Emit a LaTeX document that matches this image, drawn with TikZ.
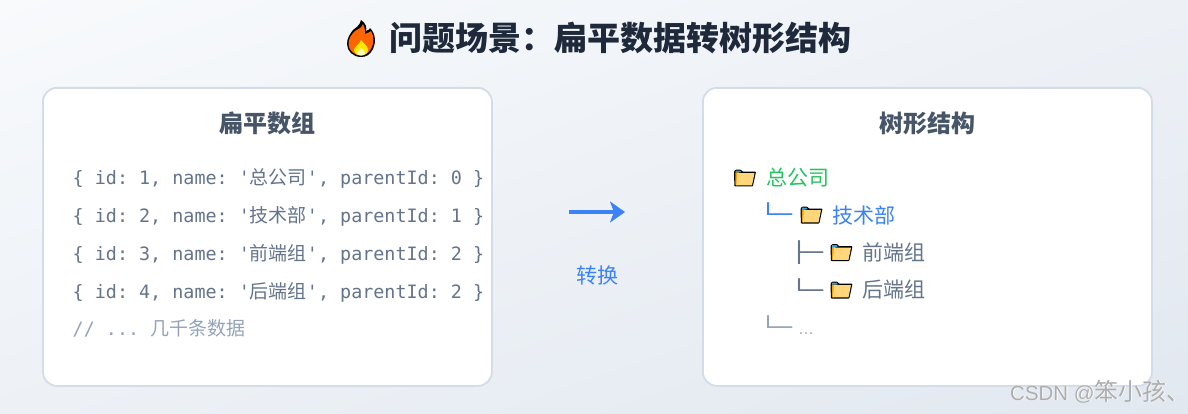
\documentclass[tikz,border=0pt]{standalone}
\usepackage{fontspec}
\setmainfont{Liberation Sans}
\newfontfamily\cjk{Noto Sans CJK SC}
\newfontfamily\codefont{DejaVu Sans Mono}
\usetikzlibrary{arrows.meta,shadings}
\definecolor{bgA}{HTML}{F8FAFC}
\definecolor{bgB}{HTML}{E2E8F0}
\definecolor{bgM}{HTML}{EDF1F6}
\definecolor{cardline}{HTML}{D3DCE8}
\definecolor{titlec}{HTML}{1E293B}
\definecolor{headc}{HTML}{475569}
\definecolor{codec}{HTML}{64748B}
\definecolor{mutec}{HTML}{94A3B8}
\definecolor{greenc}{HTML}{22C55E}
\definecolor{bluec}{HTML}{3B82F6}
\definecolor{foldfront}{HTML}{FFD67A}
\definecolor{foldback}{HTML}{F0A30A}
\definecolor{foldtab}{HTML}{3E9BD0}
\newcommand{\zh}[1]{{\cjk\fontsize{19}{22}\selectfont #1}}
\newcommand{\boxg}[1]{\scalebox{1.33}[1]{#1}}
\tikzset{
  card/.style={draw=cardline,line width=1.8pt,fill=white,rounded corners=14pt},
  mainhead/.style={inner sep=0pt,text=titlec,font=\cjk\bfseries\fontsize{33}{38}\selectfont},
  cardhead/.style={inner sep=0pt,text=headc,font=\cjk\bfseries\fontsize{24}{28}\selectfont},
  codeline/.style={inner sep=0pt,anchor=base west,text=codec,font=\frenchspacing\codefont\fontsize{18.4}{22}\selectfont},
  treetext/.style={inner sep=0pt,anchor=base west,font=\cjk\fontsize{21}{25}\selectfont},
  treeglyph/.style={inner sep=0pt,anchor=base west,font=\codefont\fontsize{20}{24}\selectfont},
  folder/.pic={
    \fill[black,rounded corners=0.8pt] (0.4,17) -- (0,2) -- (1.4,0.2) -- (7,0.2) -- (8.4,2.2) -- (22,2.2) -- (18.8,17) -- cycle;
    \fill[foldtab] (1.6,1.2) -- (6.4,1.2) -- (7.2,3) -- (1.6,3) -- cycle;
    \fill[foldback] (1.3,3) -- (5,3) -- (3.4,15.8) -- (1.5,15.8) -- cycle;
    \fill[foldfront] (3.4,3.6) -- (20.5,3.6) -- (18,15.8) -- (2.4,15.8) -- cycle;
  },
  flame/.pic={
    \fill[black] (14,0) .. controls (19,3) and (20,8) .. (19,11) .. controls (22,10) and (23,9) .. (23,8) .. controls (29,14) and (29,23) .. (26,29) .. controls (23,35) and (19,37) .. (14,37) .. controls (6,37) and (0,31) .. (0,24) .. controls (0,18) and (3,14) .. (6,10) .. controls (8,8) and (13,6) .. (14,0) -- cycle;
    \fill[orange!80!red] (16,4) .. controls (18,8) and (18,11) .. (18,14) .. controls (21,13) and (23,12) .. (24,11) .. controls (27,16) and (27,23) .. (24.500,28) .. controls (22,33) and (18,35.500) .. (14,35.500) .. controls (7,35.500) and (1.500,30) .. (1.500,24) .. controls (1.500,18) and (5,14) .. (8,11) .. controls (11,9) and (15,8) .. (16,4) -- cycle;
    \fill[yellow!90!orange] (14,20) .. controls (16,23) and (21,26) .. (21,30) .. controls (21,33) and (18,35.500) .. (14,35.500) .. controls (10,35.500) and (7,33) .. (7,30) .. controls (7,27) and (12,25) .. (14,20) -- cycle;
    \fill[yellow!25!white] (14,28) .. controls (16,30) and (18,31) .. (18,33) .. controls (18,34.500) and (16,35.500) .. (14,35.500) .. controls (12,35.500) and (10,34.500) .. (10,33) .. controls (10,31) and (13,31) .. (14,28) -- cycle;
  }
}
\begin{document}
\begin{tikzpicture}[x=1pt,y=-1pt]
\useasboundingbox (0,0) rectangle (1188,414);
\shade[upper left=bgA,upper right=bgM,lower left=bgM,lower right=bgB] (0,0) rectangle (1188,414);
% title
\pic at (347,20) {flame};
\node[mainhead,anchor=base west] (title) at (389,51) {问题场景：扁平数据转树形结构};
% cards
\node[card,minimum width=449pt,minimum height=298pt,inner sep=0pt,anchor=north west] (left) at (42,87) {};
\node[card,minimum width=449pt,minimum height=298pt,inner sep=0pt,anchor=north west] (right) at (702,87) {};
\node[cardhead,anchor=base] (lh) at (267,132.800) {扁平数组};
\node[cardhead,anchor=base] (rh) at (927,132.800) {树形结构};
% code
\node[codeline] (c1) at (72.500,185) {\{ id: 1, name: '\zh{总公司}', parentId: 0 \}};
\node[codeline] (c2) at (72.500,222.800) {\{ id: 2, name: '\zh{技术部}', parentId: 1 \}};
\node[codeline] (c3) at (72.500,260.500) {\{ id: 3, name: '\zh{前端组}', parentId: 2 \}};
\node[codeline] (c4) at (72.500,298) {\{ id: 4, name: '\zh{后端组}', parentId: 2 \}};
\node[codeline,text=mutec] (c5) at (72.500,335.800) {// ... \zh{几千条数据}};
% arrow
\coordinate (as) at (569,212);
\coordinate (ae) at (625,212);
\draw[bluec,line width=4.6pt,-{Stealth[length=15pt,width=21pt,inset=4pt]}] (as) -- (ae);
\node[treetext,text=bluec,anchor=base,font=\cjk\fontsize{21}{25}\selectfont] (conv) at (597.500,283) {转换};
% tree
\pic at (734,169.500) {folder};
\node[treetext,text=greenc] (t1) at (766.500,185.500) {总公司};
\node[treeglyph,text=bluec] (g2) at (760,222) {\boxg{└─}};
\pic at (800.500,206.500) {folder};
\node[treetext,text=bluec] (t2) at (832.500,223) {技术部};
\node[treeglyph,text=codec] (g3) at (791,259.500) {\boxg{├─}};
\pic at (830.500,244) {folder};
\node[treetext,text=codec] (t3) at (862,260) {前端组};
\node[treeglyph,text=codec] (g4) at (791,297) {\boxg{└─}};
\pic at (830.500,281.500) {folder};
\node[treetext,text=codec] (t4) at (862,297.500) {后端组};
\node[treeglyph,text=mutec] (g5) at (760,334) {\boxg{└─}};
\node[inner sep=0pt,anchor=base west,text=mutec,font=\fontsize{16}{20}\selectfont] (t5) at (798,334.500) {…};
% watermark
\node[inner sep=0pt,anchor=base west,text=white,font=\fontsize{20.5}{25}\selectfont] (w0) at (1010.800,400.800) {CSDN @{\cjk\fontsize{24}{25}\selectfont 笨小孩、}};
\node[inner sep=0pt,anchor=base west,text=black!32,font=\fontsize{20.5}{25}\selectfont] (w1) at (1010,400) {CSDN @{\cjk\fontsize{24}{25}\selectfont 笨小孩、}};
\end{tikzpicture}
\end{document}
